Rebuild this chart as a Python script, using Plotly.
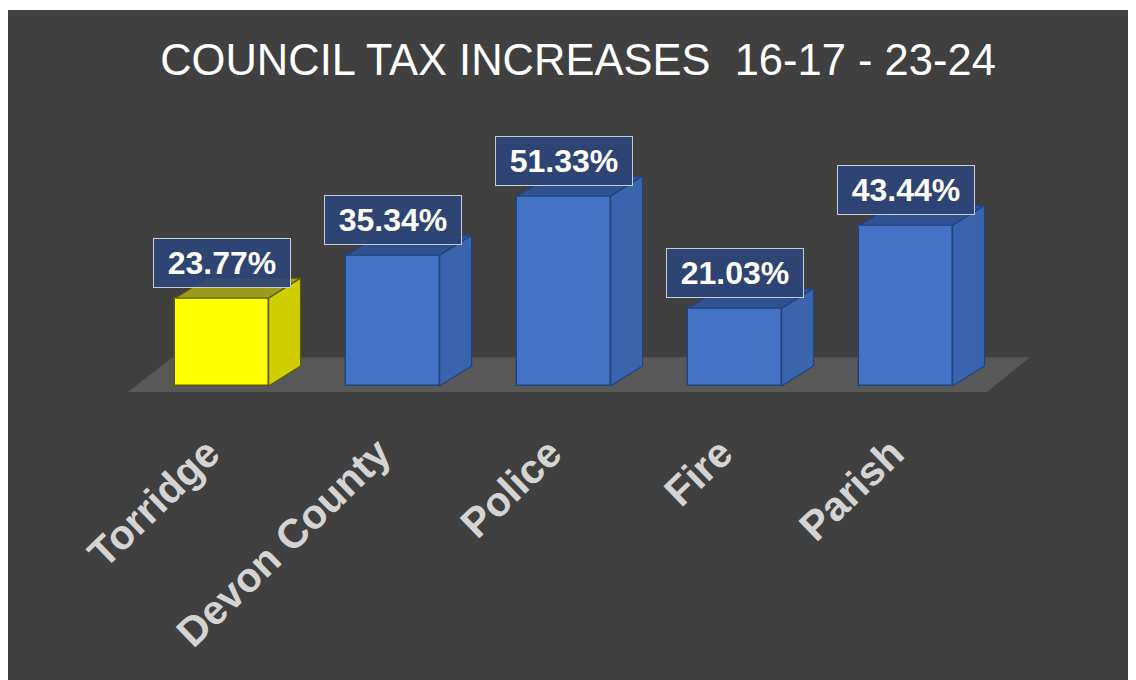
import plotly.graph_objects as go

# ---- data ----
categories = ["Torridge", "Devon County", "Police", "Fire", "Parish"]
values = [23.77, 35.34, 51.33, 21.03, 43.44]
labels = ["23.77%", "35.34%", "51.33%", "21.03%", "43.44%"]
title_text = "COUNCIL TAX INCREASES  16-17 - 23-24"

# ---- styles ----
BG = "#404040"
front_colors = ["#FFFF00", "#4472C4", "#4472C4", "#4472C4", "#4472C4"]
side_colors = ["#CFCF00", "#3A64AE", "#3A64AE", "#3A64AE", "#3A64AE"]
top_colors = ["#9C9C1C", "#2F5290", "#2F5290", "#2F5290", "#2F5290"]
edge_colors = ["#5A5A00", "#22427A", "#22427A", "#22427A", "#22427A"]

BAR_W = 0.545          # front-face width (category units)
DX = 0.187             # depth offset in x (category units)
DY = 5.4               # depth offset in y (value units)

xs = list(range(len(categories)))

fig = go.Figure()

# side and top faces computed from each bar's value
for i, v in enumerate(values):
    xl = xs[i] - BAR_W / 2
    xr = xs[i] + BAR_W / 2
    # side face
    fig.add_trace(go.Scatter(
        x=[xr, xr + DX, xr + DX, xr, xr],
        y=[0, DY, v + DY, v, 0],
        fill="toself", fillcolor=side_colors[i], mode="lines",
        line=dict(color=edge_colors[i], width=1.2),
        hoverinfo="skip", showlegend=False))
    # top face
    fig.add_trace(go.Scatter(
        x=[xl, xr, xr + DX, xl + DX, xl],
        y=[v, v, v + DY, v + DY, v],
        fill="toself", fillcolor=top_colors[i], mode="lines",
        line=dict(color=edge_colors[i], width=1.2),
        hoverinfo="skip", showlegend=False))

# front faces
fig.add_trace(go.Bar(
    x=xs, y=values, width=BAR_W,
    marker=dict(color=front_colors, line=dict(color=edge_colors, width=1.5)),
    hoverinfo="skip", showlegend=False))

# floor slab
n = len(categories)
fig.add_shape(type="path", layer="below", xref="x", yref="y",
              path=f"M -0.55,-1.6 L {n - 1 + 0.474},-1.6 L {n - 1 + 0.725},7.8 L -0.29,7.8 Z",
              fillcolor="#585858", line=dict(width=0))

# data labels
for i, v in enumerate(values):
    fig.add_annotation(
        x=xs[i], y=v, xref="x", yref="y", yshift=35,
        text=f"<b>{labels[i]}</b>", showarrow=False,
        font=dict(family="Liberation Sans, Arial, sans-serif", size=32, color="white"),
        bgcolor="rgba(44,68,118,0.92)", bordercolor="#C9CCD6", borderwidth=1,
        width=128, height=40, borderpad=4, xanchor="center", yanchor="middle")

fig.update_layout(
    width=1136, height=680,
    paper_bgcolor="white", plot_bgcolor=BG,
    margin=dict(l=0, r=0, t=2, b=0),
    title=dict(text=title_text, xref="container", yref="container",
               x=(578 - 8) / 1136, y=1 - (60 - 8) / 680, xanchor="center", yanchor="middle",
               font=dict(family="Liberation Sans, Arial, sans-serif", size=43.5, color="white")),
    xaxis=dict(range=[-1.2515, 5.392], tickmode="array", tickvals=xs,
               ticktext=[f"<b>{c}</b>" for c in categories], tickangle=-44,
               tickfont=dict(family="Liberation Sans, Arial, sans-serif", size=41, color="#D4D4D4"),
               ticklabelshift=-14,
               showgrid=False, zeroline=False, showline=False, ticks="",
               anchor="free", position=(688 - 420) / 678, automargin=False),
    yaxis=dict(range=[-81.62, 101.62], visible=False, showgrid=False, zeroline=False,
               automargin=False),
    bargap=0,
)

fig.write_html("out.html")
